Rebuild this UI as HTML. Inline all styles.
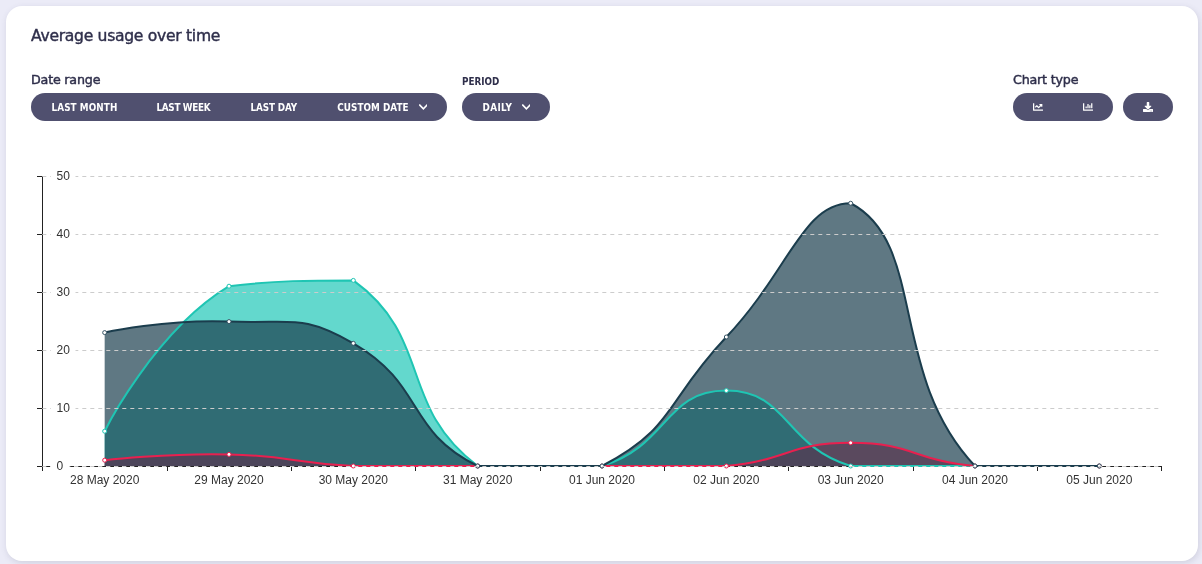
<!DOCTYPE html>
<html lang="en"><head><meta charset="utf-8"><title>Average usage over time</title>
<style>
html,body{margin:0;padding:0}
body{width:1202px;height:564px;background:#ebebf7;overflow:hidden;position:relative;font-family:"DejaVu Sans","Liberation Sans",sans-serif;color:#2f2f4b}
.card{position:absolute;left:6px;top:6px;width:1192px;height:555px;background:#fff;border-radius:16px;box-shadow:1px 2px 6px rgba(70,70,100,.16)}
.abs{position:absolute;white-space:nowrap;line-height:1}
.title{left:31px;top:28.7px;font-size:15.6px;letter-spacing:-0.3px;-webkit-text-stroke:0.4px #2f2f4b}
.lbl{font-size:12.7px;letter-spacing:-0.2px;-webkit-text-stroke:0.45px #2f2f4b}
.lbl.s{font-family:"DejaVu Sans Condensed","DejaVu Sans",sans-serif;font-size:9.8px;font-weight:bold;letter-spacing:0;-webkit-text-stroke:0}
.pill{position:absolute;top:93px;height:28px;border-radius:14px;background:#50506f}
.bt{position:absolute;top:1px;height:28px;line-height:28px;color:#fff;font-family:"DejaVu Sans Condensed","DejaVu Sans",sans-serif;font-size:9.8px;font-weight:bold;white-space:nowrap}
.ic{position:absolute;fill:#fff}
svg.chart{position:absolute;left:0;top:0}
.tk{font-family:"Liberation Sans",sans-serif;font-size:12px;fill:#333}
</style></head><body>
<div class="card"></div>
<div class="abs title">Average usage over time</div>
<div class="abs lbl" style="left:31px;top:74px">Date range</div>
<div class="abs lbl s" style="left:462px;top:77px;letter-spacing:0">PERIOD</div>
<div class="abs lbl" style="left:1013px;top:74px">Chart type</div>

<div class="pill" style="left:31px;width:416px">
 <span class="bt" style="left:20.5px;letter-spacing:0.1px">LAST MONTH</span>
 <span class="bt" style="left:125.5px;letter-spacing:-0.3px">LAST WEEK</span>
 <span class="bt" style="left:219.5px;letter-spacing:-0.1px">LAST DAY</span>
 <span class="bt" style="left:306.3px;letter-spacing:0.05px">CUSTOM DATE</span>
 <svg class="ic" style="left:387.6px;top:9px" width="8.75" height="10" viewBox="0 0 8.75 10"><path d="M0.8 3.2L4.375 6.8L7.95 3.2" fill="none" stroke="#fff" stroke-width="1.65" stroke-linecap="square" stroke-linejoin="miter"/></svg>
</div>
<div class="pill" style="left:462px;width:88px">
 <span class="bt" style="left:20.5px;letter-spacing:0.4px">DAILY</span>
 <svg class="ic" style="left:59.6px;top:9px" width="8.75" height="10" viewBox="0 0 8.75 10"><path d="M0.8 3.2L4.375 6.8L7.95 3.2" fill="none" stroke="#fff" stroke-width="1.65" stroke-linecap="square" stroke-linejoin="miter"/></svg>
</div>
<div class="pill" style="left:1013px;width:100px">
 <svg class="ic" style="left:20px;top:9px" width="10" height="10" viewBox="0 0 512 512"><path d="M496 384H64V80c0-8.84-7.16-16-16-16H16C7.16 64 0 71.16 0 80v336c0 17.67 14.33 32 32 32h464c8.84 0 16-7.16 16-16v-32c0-8.84-7.16-16-16-16zM464 96H345.94c-21.38 0-32.09 25.85-16.97 40.97l32.4 32.4L288 242.75l-73.37-73.37c-12.5-12.5-32.76-12.5-45.25 0l-68.69 68.69c-6.25 6.25-6.25 16.38 0 22.63l22.62 22.62c6.25 6.25 16.38 6.25 22.63 0L192 237.25l73.37 73.37c12.5 12.5 32.76 12.5 45.25 0l96-96 32.4 32.4c15.12 15.12 40.97 4.41 40.97-16.97V112c.01-8.84-7.15-16-15.99-16z"/></svg>
 <svg class="ic" style="left:70px;top:9px" width="10" height="10" viewBox="0 0 512 512"><path d="M332.8 320h38.4c6.4 0 12.8-6.4 12.8-12.8V172.8c0-6.4-6.4-12.8-12.8-12.8h-38.4c-6.4 0-12.8 6.4-12.8 12.8v134.4c0 6.4 6.4 12.8 12.8 12.8zm96 0h38.4c6.4 0 12.8-6.4 12.8-12.8V76.8c0-6.4-6.4-12.8-12.8-12.8h-38.4c-6.4 0-12.8 6.4-12.8 12.8v230.4c0 6.4 6.4 12.8 12.8 12.8zm-288 0h38.4c6.4 0 12.8-6.4 12.8-12.8v-70.4c0-6.4-6.4-12.8-12.8-12.8h-38.4c-6.4 0-12.8 6.4-12.8 12.8v70.4c0 6.4 6.4 12.8 12.8 12.8zm96 0h38.4c6.4 0 12.8-6.4 12.8-12.8V108.8c0-6.4-6.4-12.8-12.8-12.8h-38.4c-6.4 0-12.8 6.4-12.8 12.8v198.4c0 6.4 6.4 12.8 12.8 12.8zM496 384H64V80c0-8.84-7.16-16-16-16H16C7.16 64 0 71.16 0 80v336c0 17.67 14.33 32 32 32h464c8.84 0 16-7.16 16-16v-32c0-8.84-7.16-16-16-16z"/></svg>
</div>
<div class="pill" style="left:1123px;width:50px">
 <svg class="ic" style="left:20px;top:9px" width="10" height="10" viewBox="0 0 512 512"><path d="M216 0h80c13.3 0 24 10.7 24 24v168h87.7c17.8 0 26.7 21.5 14.1 34.1L269.7 378.3c-7.5 7.5-19.8 7.5-27.3 0L90.1 226.1c-12.6-12.6-3.7-34.1 14.1-34.1H192V24c0-13.3 10.7-24 24-24zm296 376v112c0 13.3-10.7 24-24 24H24c-13.3 0-24-10.7-24-24V376c0-13.3 10.7-24 24-24h146.7l49 49c20.1 20.1 52.5 20.1 72.6 0l49-49H488c13.3 0 24 10.7 24 24zm-124 88c0-11-9-20-20-20s-20 9-20 20 9 20 20 20 20-9 20-20zm64 0c0-11-9-20-20-20s-20 9-20 20 9 20 20 20 20-9 20-20z"/></svg>
</div>

<svg class="chart" width="1202" height="564" viewBox="0 0 1202 564">
<line x1="42.5" x2="42.5" y1="176" y2="471" stroke="#222" stroke-width="1"/>
<line x1="37" x2="43" y1="466.5" y2="466.5" stroke="#222" stroke-width="1"/>
<line x1="37" x2="43" y1="408.5" y2="408.5" stroke="#222" stroke-width="1"/>
<line x1="37" x2="43" y1="350.5" y2="350.5" stroke="#222" stroke-width="1"/>
<line x1="37" x2="43" y1="292.5" y2="292.5" stroke="#222" stroke-width="1"/>
<line x1="37" x2="43" y1="234.5" y2="234.5" stroke="#222" stroke-width="1"/>
<line x1="37" x2="43" y1="176.5" y2="176.5" stroke="#222" stroke-width="1"/>
<line x1="167.5" x2="167.5" y1="466" y2="471" stroke="#222" stroke-width="1"/>
<line x1="291.5" x2="291.5" y1="466" y2="471" stroke="#222" stroke-width="1"/>
<line x1="415.5" x2="415.5" y1="466" y2="471" stroke="#222" stroke-width="1"/>
<line x1="540.5" x2="540.5" y1="466" y2="471" stroke="#222" stroke-width="1"/>
<line x1="664.5" x2="664.5" y1="466" y2="471" stroke="#222" stroke-width="1"/>
<line x1="788.5" x2="788.5" y1="466" y2="471" stroke="#222" stroke-width="1"/>
<line x1="913.5" x2="913.5" y1="466" y2="471" stroke="#222" stroke-width="1"/>
<line x1="1037.5" x2="1037.5" y1="466" y2="471" stroke="#222" stroke-width="1"/>
<line x1="1161.5" x2="1161.5" y1="466" y2="471" stroke="#222" stroke-width="1"/>
<line x1="38" x2="1161.5" y1="466.5" y2="466.5" stroke="#222" stroke-width="1" stroke-dasharray="4 4"/>
<path d="M104.67 431.20 C104.67 431.20 153.72 331.85 229.00 286.20 C278.05 280.40 308.85 280.40 353.33 280.40 C433.18 338.13 397.79 406.38 477.67 466.00 C522.12 466.00 544.69 466.00 602.00 466.00 C669.02 445.68 664.17 390.60 726.33 390.60 C788.50 390.60 783.64 445.68 850.67 466.00 C907.98 466.00 912.83 466.00 975.00 466.00 C1037.17 466.00 1099.33 466.00 1099.33 466.00 L1099.33 466.00 L104.67 466.00 Z" fill="rgba(33,199,184,0.7)"/>
<path d="M104.67 460.20 C104.67 460.20 166.93 452.95 229.00 454.40 C291.27 455.85 291.03 463.09 353.33 466.00 C415.37 466.00 415.50 466.00 477.67 466.00 C539.83 466.00 539.83 466.00 602.00 466.00 C664.17 466.00 664.70 466.00 726.33 466.00 C789.03 460.15 788.50 442.80 850.67 442.80 C912.83 442.80 912.30 460.15 975.00 466.00 C1036.63 466.00 1099.33 466.00 1099.33 466.00 L1099.33 466.00 L104.67 466.00 Z" fill="rgba(232,32,80,0.7)"/>
<path d="M104.67 332.60 C104.67 332.60 167.18 318.91 229.00 321.58 C291.51 324.28 301.18 313.04 353.33 343.33 C425.51 385.25 405.04 430.17 477.67 466.00 C529.37 466.00 551.06 466.00 602.00 466.00 C675.40 427.93 664.76 402.07 726.33 337.01 C789.09 270.70 802.69 203.26 850.67 203.26 C927.03 242.87 887.92 373.99 975.00 466.00 C1012.25 466.00 1099.33 466.00 1099.33 466.00 L1099.33 466.00 L104.67 466.00 Z" fill="rgba(27,63,78,0.7)"/>
<path d="M104.67 431.20 C104.67 431.20 153.72 331.85 229.00 286.20 C278.05 280.40 308.85 280.40 353.33 280.40 C433.18 338.13 397.79 406.38 477.67 466.00 C522.12 466.00 544.69 466.00 602.00 466.00 C669.02 445.68 664.17 390.60 726.33 390.60 C788.50 390.60 783.64 445.68 850.67 466.00 C907.98 466.00 912.83 466.00 975.00 466.00 C1037.17 466.00 1099.33 466.00 1099.33 466.00" fill="none" stroke="#1fc5b3" stroke-width="2" stroke-linejoin="round"/>
<circle cx="104.67" cy="431.20" r="2" fill="#fff" stroke="#1fc5b3" stroke-width="1"/>
<circle cx="229.00" cy="286.20" r="2" fill="#fff" stroke="#1fc5b3" stroke-width="1"/>
<circle cx="353.33" cy="280.40" r="2" fill="#fff" stroke="#1fc5b3" stroke-width="1"/>
<circle cx="477.67" cy="466.00" r="2" fill="#fff" stroke="#1fc5b3" stroke-width="1"/>
<circle cx="602.00" cy="466.00" r="2" fill="#fff" stroke="#1fc5b3" stroke-width="1"/>
<circle cx="726.33" cy="390.60" r="2" fill="#fff" stroke="#1fc5b3" stroke-width="1"/>
<circle cx="850.67" cy="466.00" r="2" fill="#fff" stroke="#1fc5b3" stroke-width="1"/>
<circle cx="975.00" cy="466.00" r="2" fill="#fff" stroke="#1fc5b3" stroke-width="1"/>
<circle cx="1099.33" cy="466.00" r="2" fill="#fff" stroke="#1fc5b3" stroke-width="1"/>
<path d="M104.67 460.20 C104.67 460.20 166.93 452.95 229.00 454.40 C291.27 455.85 291.03 463.09 353.33 466.00 C415.37 466.00 415.50 466.00 477.67 466.00 C539.83 466.00 539.83 466.00 602.00 466.00 C664.17 466.00 664.70 466.00 726.33 466.00 C789.03 460.15 788.50 442.80 850.67 442.80 C912.83 442.80 912.30 460.15 975.00 466.00 C1036.63 466.00 1099.33 466.00 1099.33 466.00" fill="none" stroke="#e8204f" stroke-width="2" stroke-linejoin="round"/>
<circle cx="104.67" cy="460.20" r="2" fill="#fff" stroke="#e8204f" stroke-width="1"/>
<circle cx="229.00" cy="454.40" r="2" fill="#fff" stroke="#e8204f" stroke-width="1"/>
<circle cx="353.33" cy="466.00" r="2" fill="#fff" stroke="#e8204f" stroke-width="1"/>
<circle cx="477.67" cy="466.00" r="2" fill="#fff" stroke="#e8204f" stroke-width="1"/>
<circle cx="602.00" cy="466.00" r="2" fill="#fff" stroke="#e8204f" stroke-width="1"/>
<circle cx="726.33" cy="466.00" r="2" fill="#fff" stroke="#e8204f" stroke-width="1"/>
<circle cx="850.67" cy="442.80" r="2" fill="#fff" stroke="#e8204f" stroke-width="1"/>
<circle cx="975.00" cy="466.00" r="2" fill="#fff" stroke="#e8204f" stroke-width="1"/>
<circle cx="1099.33" cy="466.00" r="2" fill="#fff" stroke="#e8204f" stroke-width="1"/>
<path d="M104.67 332.60 C104.67 332.60 167.18 318.91 229.00 321.58 C291.51 324.28 301.18 313.04 353.33 343.33 C425.51 385.25 405.04 430.17 477.67 466.00 C529.37 466.00 551.06 466.00 602.00 466.00 C675.40 427.93 664.76 402.07 726.33 337.01 C789.09 270.70 802.69 203.26 850.67 203.26 C927.03 242.87 887.92 373.99 975.00 466.00 C1012.25 466.00 1099.33 466.00 1099.33 466.00" fill="none" stroke="#1b3d4d" stroke-width="2" stroke-linejoin="round"/>
<circle cx="104.67" cy="332.60" r="2" fill="#fff" stroke="#355364" stroke-width="1"/>
<circle cx="229.00" cy="321.58" r="2" fill="#fff" stroke="#355364" stroke-width="1"/>
<circle cx="353.33" cy="343.33" r="2" fill="#fff" stroke="#355364" stroke-width="1"/>
<circle cx="477.67" cy="466.00" r="2" fill="#fff" stroke="#355364" stroke-width="1"/>
<circle cx="602.00" cy="466.00" r="2" fill="#fff" stroke="#355364" stroke-width="1"/>
<circle cx="726.33" cy="337.01" r="2" fill="#fff" stroke="#355364" stroke-width="1"/>
<circle cx="850.67" cy="203.26" r="2" fill="#fff" stroke="#355364" stroke-width="1"/>
<circle cx="975.00" cy="466.00" r="2" fill="#fff" stroke="#355364" stroke-width="1"/>
<circle cx="1099.33" cy="466.00" r="2" fill="#fff" stroke="#355364" stroke-width="1"/>
<line x1="42.3" x2="1161.5" y1="466.5" y2="466.5" stroke="#ccc" stroke-width="1" stroke-dasharray="4 4"/>
<line x1="42.3" x2="1161.5" y1="408.5" y2="408.5" stroke="#ccc" stroke-width="1" stroke-dasharray="4 4"/>
<line x1="42.3" x2="1161.5" y1="350.5" y2="350.5" stroke="#ccc" stroke-width="1" stroke-dasharray="4 4"/>
<line x1="42.3" x2="1161.5" y1="292.5" y2="292.5" stroke="#ccc" stroke-width="1" stroke-dasharray="4 4"/>
<line x1="42.3" x2="1161.5" y1="234.5" y2="234.5" stroke="#ccc" stroke-width="1" stroke-dasharray="4 4"/>
<line x1="42.3" x2="1161.5" y1="176.5" y2="176.5" stroke="#ccc" stroke-width="1" stroke-dasharray="4 4"/>
<rect x="51" y="459.5" width="18.0" height="14" fill="#fff"/>
<rect x="51" y="401.5" width="24.5" height="14" fill="#fff"/>
<rect x="51" y="343.5" width="24.5" height="14" fill="#fff"/>
<rect x="51" y="285.5" width="24.5" height="14" fill="#fff"/>
<rect x="51" y="227.5" width="24.5" height="14" fill="#fff"/>
<rect x="51" y="169.5" width="24.5" height="14" fill="#fff"/>
<text x="56.6" y="470.0" class="tk">0</text>
<text x="56.6" y="412.0" class="tk">10</text>
<text x="56.6" y="354.0" class="tk">20</text>
<text x="56.6" y="296.0" class="tk">30</text>
<text x="56.6" y="238.0" class="tk">40</text>
<text x="56.6" y="180.0" class="tk">50</text>
<text x="104.67" y="484" class="tk" text-anchor="middle">28 May 2020</text>
<text x="229.00" y="484" class="tk" text-anchor="middle">29 May 2020</text>
<text x="353.33" y="484" class="tk" text-anchor="middle">30 May 2020</text>
<text x="477.67" y="484" class="tk" text-anchor="middle">31 May 2020</text>
<text x="602.00" y="484" class="tk" text-anchor="middle">01 Jun 2020</text>
<text x="726.33" y="484" class="tk" text-anchor="middle">02 Jun 2020</text>
<text x="850.67" y="484" class="tk" text-anchor="middle">03 Jun 2020</text>
<text x="975.00" y="484" class="tk" text-anchor="middle">04 Jun 2020</text>
<text x="1099.33" y="484" class="tk" text-anchor="middle">05 Jun 2020</text>
</svg>
</body></html>
